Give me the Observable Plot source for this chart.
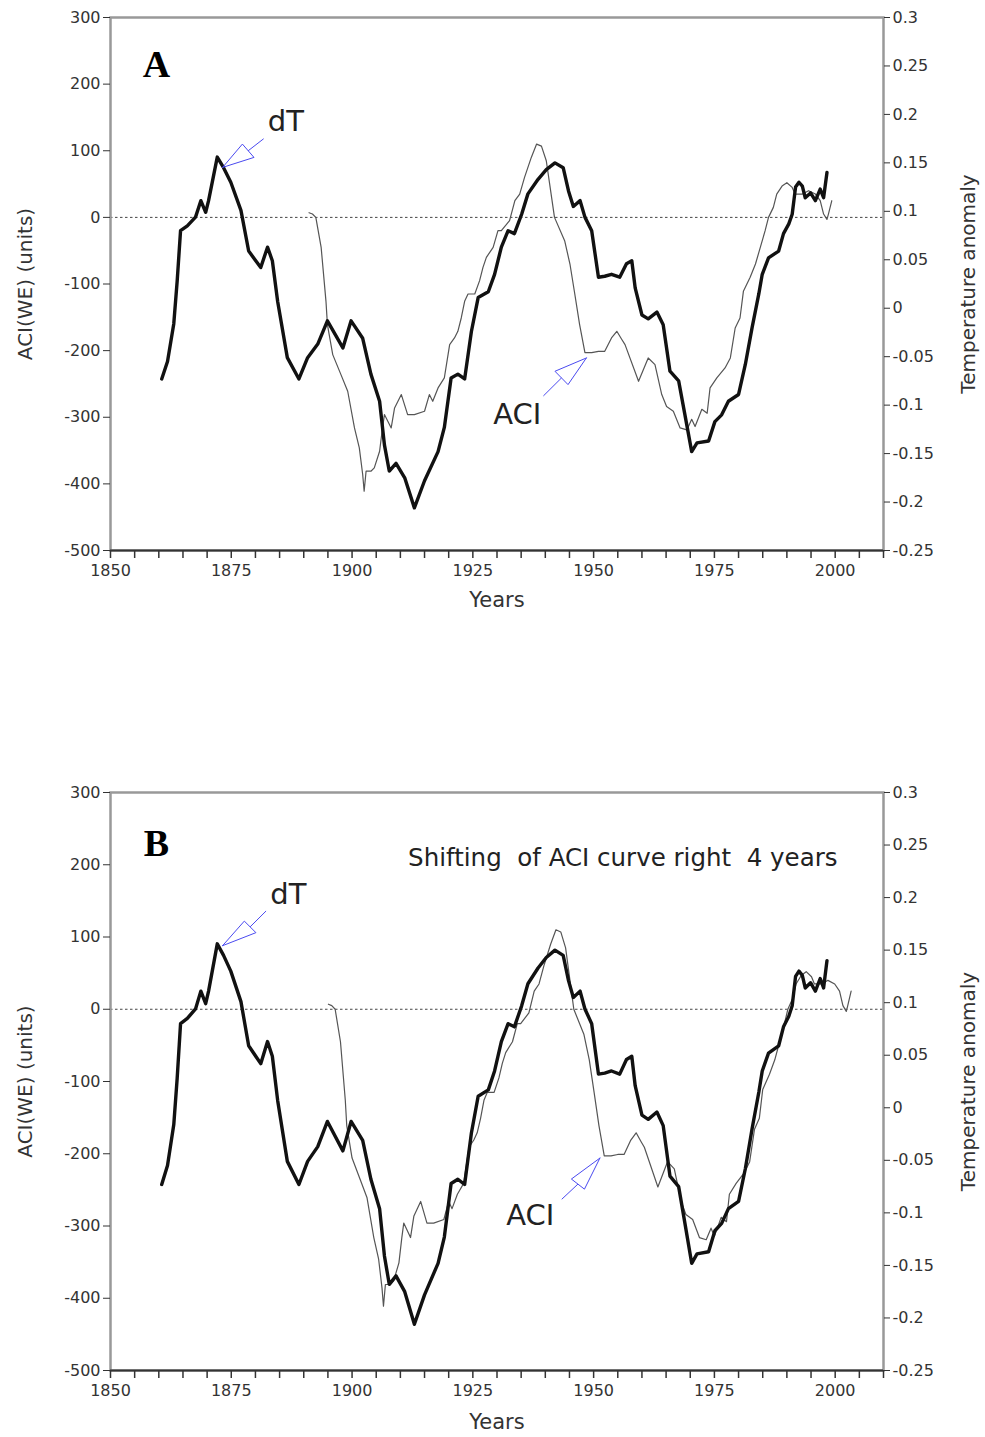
<!DOCTYPE html>
<html><head><meta charset="utf-8">
<script src="https://cdn.jsdelivr.net/npm/d3@7"></script>
<script src="https://cdn.jsdelivr.net/npm/@observablehq/plot@0.6"></script>
<style>
html,body{margin:0;padding:0;background:#fff;}
#chart svg{display:block;}
#chart text{white-space:pre;}
</style></head><body><div id="chart"></div>
<script>
// ---- Data ----
// dT: temperature anomaly (right axis units)
const dtYears = [1860.6,1861.8,1863.1,1863.8,1864.5,1865.9,1867.6,1868.7,1869.7,1870.3,1872.1,1873.4,1874.9,1877.0,1878.6,1881.1,1882.5,1883.5,1884.6,1886.6,1889.0,1890.8,1892.9,1894.9,1898.1,1899.8,1902.2,1903.9,1905.7,1906.7,1907.7,1909.1,1910.9,1912.9,1915.0,1917.8,1919.1,1920.5,1921.9,1923.3,1924.7,1926.1,1928.2,1929.5,1930.9,1932.3,1933.6,1935.1,1936.4,1938.5,1940.2,1942.0,1943.7,1944.8,1945.8,1947.2,1948.2,1949.6,1950.3,1951.0,1952.3,1953.7,1955.4,1956.8,1957.9,1958.6,1960.0,1961.3,1963.1,1964.4,1965.8,1967.6,1968.9,1970.3,1971.4,1973.8,1975.1,1976.5,1977.9,1980.0,1981.4,1982.8,1984.2,1984.9,1986.2,1988.3,1989.3,1990.4,1991.1,1991.8,1992.5,1993.2,1993.8,1994.9,1995.9,1996.9,1997.6,1998.3];
const dtAnomaly = [-0.073,-0.055,-0.016,0.028,0.080,0.085,0.094,0.111,0.099,0.111,0.156,0.145,0.130,0.101,0.059,0.042,0.063,0.049,0.007,-0.051,-0.073,-0.051,-0.037,-0.013,-0.041,-0.013,-0.031,-0.068,-0.096,-0.141,-0.168,-0.160,-0.175,-0.206,-0.178,-0.148,-0.123,-0.072,-0.068,-0.073,-0.024,0.011,0.017,0.035,0.063,0.080,0.077,0.097,0.118,0.133,0.143,0.150,0.145,0.121,0.105,0.111,0.094,0.080,0.056,0.032,0.033,0.035,0.032,0.046,0.049,0.021,-0.007,-0.011,-0.004,-0.017,-0.065,-0.075,-0.110,-0.148,-0.139,-0.137,-0.117,-0.110,-0.096,-0.089,-0.058,-0.020,0.015,0.035,0.052,0.059,0.077,0.087,0.097,0.125,0.130,0.126,0.114,0.119,0.111,0.123,0.114,0.140];
// ACI(WE): left axis units
const aciYears = [1891.1,1891.8,1892.5,1893.6,1894.6,1894.9,1896.0,1897.7,1899.1,1900.5,1901.5,1902.2,1902.5,1902.9,1903.9,1904.6,1905.7,1906.3,1906.7,1907.4,1908.1,1908.8,1910.2,1911.5,1912.9,1915.0,1916.0,1916.7,1917.8,1919.1,1920.2,1921.2,1921.9,1922.6,1923.3,1924.0,1925.4,1926.4,1927.1,1927.8,1929.2,1930.2,1930.9,1932.6,1933.7,1934.7,1935.7,1937.1,1938.2,1939.2,1940.2,1941.3,1941.9,1944.0,1945.1,1946.1,1947.1,1948.2,1949.6,1951.0,1952.3,1953.7,1954.8,1955.8,1956.5,1959.3,1961.3,1962.7,1964.1,1965.1,1966.5,1967.9,1969.3,1970.3,1971.0,1972.4,1973.5,1974.1,1975.5,1977.2,1978.3,1979.3,1980.3,1981.0,1982.4,1983.5,1984.5,1985.5,1986.2,1987.2,1987.9,1989.0,1990.0,1991.1,1991.7,1993.2,1994.5,1995.9,1996.9,1997.6,1998.3,1998.6,1999.3];
const aciValues = [7,5,0,-45,-126,-161,-206,-236,-261,-316,-346,-386,-411,-381,-381,-376,-351,-316,-296,-306,-316,-286,-266,-296,-296,-291,-266,-276,-256,-241,-191,-181,-171,-151,-126,-115,-115,-95,-75,-60,-45,-20,-20,-5,25,35,60,90,110,107,85,30,0,-35,-70,-115,-161,-203,-203,-201,-201,-181,-171,-183,-191,-246,-211,-221,-266,-284,-291,-316,-319,-303,-314,-288,-294,-256,-241,-226,-211,-166,-151,-111,-90,-70,-45,-20,0,15,35,47,52,45,35,35,40,35,25,5,-3,5,25];
const shiftYearsB = 4;

// Tick labels
const aciTicks = [-500,-400,-300,-200,-100,0,100,200,300];
const tempTicks = [-0.25,-0.2,-0.15,-0.1,-0.05,0,0.05,0.1,0.15,0.2,0.25,0.3];
const yearTicks = [1850,1875,1900,1925,1950,1975,2000];
const minorYearTicks = d3.range(1850, 2011, 5);

const aciDomain = [-500, 300];
const tempDomain = [-0.25, 0.3];
const yearDomain = [1850, 2010];
const tempToAci = d3.scaleLinear().domain(tempDomain).range(aciDomain);

const arrowColor = "#4a4af0";
const font = "DejaVu Sans";

function panel(cfg) {
  const dt = dtYears.map((year, i) => ({year, value: tempToAci(dtAnomaly[i])}));
  const aci = aciYears.map((year, i) => ({year: year + cfg.shift, value: aciValues[i]}));
  const arrowMarks = cfg.arrows.flatMap(a => [
    Plot.line([a.tip, a.left, a.right, a.tip], {x: d => d[0], y: d => d[1], stroke: arrowColor, strokeWidth: 1}),
    Plot.link([a], {x1: d => (d.left[0] + d.right[0]) / 2, y1: d => (d.left[1] + d.right[1]) / 2,
                    x2: d => d.tail[0], y2: d => d.tail[1], stroke: arrowColor, strokeWidth: 1})
  ]);
  const labelMarks = cfg.labels.map(l => Plot.text([l], {x: d => d.at[0], y: d => d.at[1], text: d => d.text,
    fontSize: l.size, textAnchor: l.anchor || "middle", lineAnchor: "middle", fill: "#222", fontFamily: font}));
  return Plot.plot({
    width: 985, height: cfg.height,
    marginLeft: 110, marginRight: 102, marginTop: cfg.marginTop, marginBottom: cfg.marginBottom,
    style: {fontFamily: font, fontSize: "16px", color: "#333", background: "#fff"},
    x: {domain: yearDomain},
    y: {domain: aciDomain},
    marks: [
      Plot.ruleY([0], {stroke: "#444", strokeDasharray: "2.5,2.5", strokeWidth: 1}),
      Plot.line(aci, {x: "year", y: "value", stroke: "#555", strokeWidth: 1.2}),
      Plot.line(dt, {x: "year", y: "value", stroke: "#111", strokeWidth: 3.4, strokeLinejoin: "round"}),
      Plot.frame({stroke: "#999", strokeWidth: 2.5}),
      Plot.ruleY([-500], {stroke: "#333", strokeWidth: 2}),
      Plot.axisX(minorYearTicks, {tickSize: 8, tickPadding: 6, strokeWidth: 1.5,
        tickFormat: d => yearTicks.includes(d) ? String(d) : "", label: null}),
      Plot.axisY(aciTicks, {anchor: "left", tickSize: 7, tickPadding: 3, tickFormat: d => String(d), label: null}),
      Plot.axisY(tempTicks.map(t => tempToAci(t)), {anchor: "right", tickSize: 6, tickPadding: 3, label: null,
        tickFormat: v => String(Math.round(tempToAci.invert(v) * 100) / 100)}),
      Plot.text(["ACI(WE) (units)"], {text: d => d, frameAnchor: "left", dx: -85, rotate: -90, fontSize: 20,
        fill: "#333", textAnchor: "middle", lineAnchor: "middle"}),
      Plot.text(["Temperature anomaly"], {text: d => d, frameAnchor: "right", dx: 85, rotate: -90, fontSize: 20,
        fill: "#333", textAnchor: "middle", lineAnchor: "middle"}),
      Plot.text(["Years"], {text: d => d, frameAnchor: "bottom", dy: cfg.yearsDy, fontSize: 21, fill: "#333",
        textAnchor: "middle", lineAnchor: "middle"}),
      Plot.text([cfg.letter], {text: d => d, frameAnchor: "top-left", dx: 46, dy: cfg.letterDy, fontSize: 38,
        fontWeight: "bold", fontFamily: "Liberation Serif", fill: "#000", textAnchor: "middle", lineAnchor: "middle"}),
      ...arrowMarks,
      ...labelMarks
    ]
  });
}

const chart = document.getElementById("chart");
chart.append(panel({
  letter: "A", shift: 0, height: 640, marginTop: 17, marginBottom: 90, yearsDy: 50, letterDy: 47,
  arrows: [
    {tip: [1873.2, 75], left: [1877.3, 110], right: [1879.7, 90], tail: [1881.7, 118]},
    {tip: [1948.5, -211], left: [1942.0, -231], right: [1944.7, -251], tail: [1939.6, -268]}
  ],
  labels: [
    {text: "dT", at: [1886.3, 144], size: 29},
    {text: "ACI", at: [1934.2, -296], size: 29}
  ]
}));
chart.append(panel({
  letter: "B", shift: shiftYearsB, height: 797, marginTop: 152, marginBottom: 67, yearsDy: 52, letterDy: 51,
  arrows: [
    {tip: [1873.2, 88], left: [1877.7, 122], right: [1880.1, 106], tail: [1882.2, 136]},
    {tip: [1951.3, -206], left: [1945.4, -235], right: [1948.1, -249], tail: [1943.4, -263]}
  ],
  labels: [
    {text: "dT", at: [1886.8, 159], size: 29},
    {text: "ACI", at: [1936.9, -286], size: 29},
    {text: "Shifting  of ACI curve right  4 years", at: [1911.6, 209], size: 24.5, anchor: "start"}
  ]
}));
</script></body></html>
